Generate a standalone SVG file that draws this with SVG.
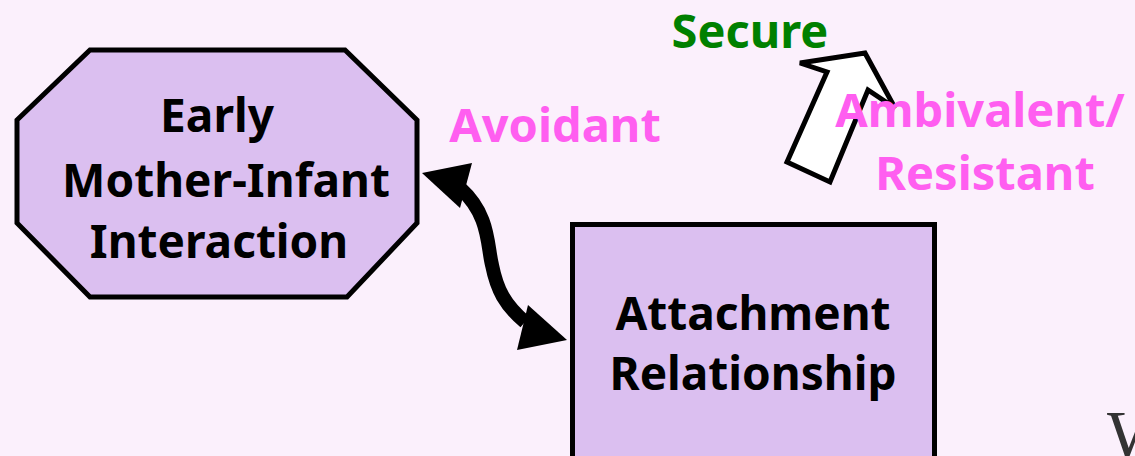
<svg xmlns="http://www.w3.org/2000/svg" width="1135" height="456" viewBox="0 0 1135 456">
<style>
.node{fill:#dbbff0;stroke:#000;stroke-width:5;stroke-linejoin:miter}
.nt{font-family:"Noto Sans","DejaVu Sans",sans-serif;font-weight:700;font-size:46px;fill:#000;text-anchor:middle}
.lab{font-family:"Noto Sans","DejaVu Sans",sans-serif;font-weight:700;font-size:47px;text-anchor:middle}
.pink{fill:#ff5ef0}
.green{fill:#008000}
.head{fill:#000}
</style>
<rect width="1135" height="456" fill="#fbf0fc"/>
<g id="connectors">
<path d="M 460 188 C 490 215, 487 245, 492 265 C 497 290, 505 305, 525 322" fill="none" stroke="#000" stroke-width="14"/>
<polygon class="head" points="422,173 472,163 460,208"/>
<polygon class="head" points="567,340 528,305 517,350"/>
<polygon points="865,53 800,63 827,72 787,162 830,182 868,90 895,108" fill="#fff" stroke="#000" stroke-width="5" stroke-linejoin="miter"/>
</g>
<g id="node-early">
<polygon class="node" points="90,50 345,50 417,120 417,223 347,297 90,297 17,223 17,120"/>
<text class="nt" x="217" y="132">Early</text>
<text class="nt" x="226" y="197">Mother-Infant</text>
<text class="nt" x="219" y="258">Interaction</text>
</g>
<g id="node-attachment">
<rect class="node" x="572.5" y="224.5" width="362" height="260"/>
<text class="nt" x="753" y="330">Attachment</text>
<text class="nt" x="753" y="390">Relationship</text>
</g>
<g id="labels">
<text class="lab green" x="750" y="48">Secure</text>
<text class="lab pink" x="555" y="142">Avoidant</text>
<text class="lab pink" x="980" y="127">Ambivalent/</text>
<text class="lab pink" x="985" y="190">Resistant</text>
</g>
<text x="1107" y="459" font-family="'Liberation Serif',serif" font-size="70" fill="#333">W</text>
</svg>
